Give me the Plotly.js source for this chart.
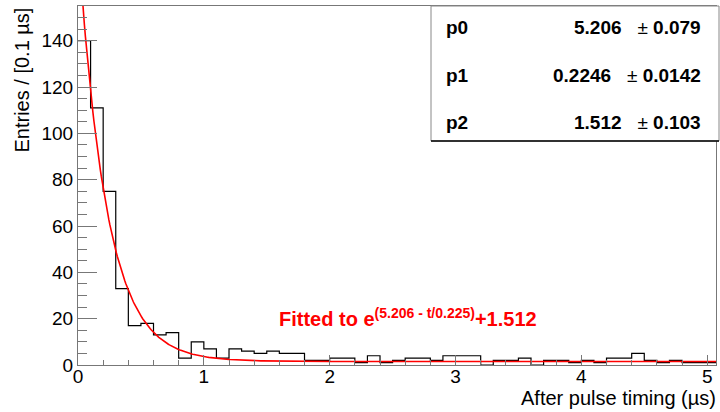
<!DOCTYPE html>
<html>
<head>
<meta charset="utf-8">
<script src="https://cdn.plot.ly/plotly-3.0.1.min.js"></script>
<style>html,body{margin:0;padding:0;background:#fff;}#chart{width:720px;height:412px;}</style>
</head>
<body>
<div id="chart"></div>
<script>
// Histogram: entries per 0.1 µs bin, starting at 0 µs
const binStart = 0;
const binWidth = 0.1;
const counts = [140, 111, 75, 33, 17, 18, 13, 14, 3, 10,
                7, 3, 7, 6, 5, 6, 5, 5, 2, 2,
                3, 3, 1, 4, 1, 2, 3, 3, 2, 4,
                4, 4, 0, 2, 2, 3, 0, 2, 2, 1,
                2, 1, 3, 3, 5, 2, 1, 2, 1, 1, 1];
// Fit parameters: f(t) = exp(p0 - t/p1) + p2
const p0 = 5.206, p0err = 0.079;
const p1 = 0.2246, p1err = 0.0142;
const p2 = 1.512, p2err = 0.103;
const paramNames = ["p0", "p1", "p2"];
const paramValues = ["5.206", "0.2246", "1.512"];
const paramErrors = ["0.079", "0.0142", "0.103"];
const xTitle = "After pulse timing (µs)";
const yTitle = "Entries / [0.1 µs]";
const fitLabel = "<b>Fitted to e<sup>(5.206 - t/0.225)</sup>+1.512</b>";

const xMax = 5.07, yMax = 155;

// step histogram
const hx = [], hy = [];
for (let i = 0; i < counts.length; i++) { hx.push(binStart + i * binWidth); hy.push(counts[i]); }
hx.push(binStart + counts.length * binWidth); hy.push(counts[counts.length - 1]);

// fitted function
const fx = [], fy = [];
const nPts = 600;
for (let i = 0; i <= nPts; i++) {
  const t = xMax * i / nPts;
  fx.push(t); fy.push(Math.exp(p0 - t / p1) + p2);
}

const FONT = "Liberation Sans, Arial, Helvetica, sans-serif";
const L = 78, R = 716, T = 6, B = 365;
const W = R - L, H = B - T;
const px = x => (x - L) / W;
const py = y => (B - y) / H;

const traces = [
  {x: hx, y: hy, type: "scatter", mode: "lines", line: {shape: "hv", color: "#000", width: 1.2}, hoverinfo: "skip"},
  {x: fx, y: fy, type: "scatter", mode: "lines", line: {color: "#ff0000", width: 1.6}, hoverinfo: "skip"}
];

const annotations = [
  {xref: "paper", yref: "paper", x: px(21), y: 1.0, xanchor: "center", yanchor: "top", textangle: -90,
   text: yTitle, showarrow: false, font: {family: FONT, size: 20, color: "#000"}},
  {xref: "paper", yref: "paper", x: px(718), y: py(398), xanchor: "right", yanchor: "middle",
   text: xTitle, showarrow: false, font: {family: FONT, size: 20, color: "#000"}},
  {xref: "paper", yref: "paper", x: px(277), y: py(317), xanchor: "left", yanchor: "middle",
   text: fitLabel, showarrow: false, font: {family: FONT, size: 20, color: "#ff0000"}}
];
const rowY = [28, 75, 122];
for (let i = 0; i < 3; i++) {
  annotations.push({xref: "paper", yref: "paper", x: px(444), y: py(rowY[i]), xanchor: "left", yanchor: "middle",
    text: "<b>" + paramNames[i] + "</b>", showarrow: false, font: {family: FONT, size: 19, color: "#000"}});
  annotations.push({xref: "paper", yref: "paper", x: px(703), y: py(rowY[i]), xanchor: "right", yanchor: "middle",
    text: "<b>" + paramValues[i] + "</b>\u00A0\u00A0 ±\u00A0<b>" + paramErrors[i] + "</b>", showarrow: false, font: {family: FONT, size: 19, color: "#000"}});
}

const layout = {
  width: 720, height: 412,
  margin: {l: L, r: 720 - R, t: T, b: 412 - B, pad: 0},
  paper_bgcolor: "#fff", plot_bgcolor: "#fff",
  showlegend: false,
  font: {family: FONT, size: 19, color: "#000"},
  xaxis: {
    range: [0, xMax], showgrid: false, zeroline: false,
    showline: true, mirror: true, linecolor: "#777", linewidth: 1,
    ticks: "inside", ticklen: 10, tickcolor: "#777", tickwidth: 1,
    tick0: 0, dtick: 1, ticklabelstandoff: -6,
    minor: {ticks: "inside", ticklen: 5, dtick: 0.2, tickcolor: "#777", showgrid: false},
    tickfont: {family: FONT, size: 19, color: "#000"}
  },
  yaxis: {
    range: [0, yMax], showgrid: false, zeroline: false,
    showline: true, mirror: true, linecolor: "#777", linewidth: 1,
    ticks: "inside", ticklen: 19, tickcolor: "#777", tickwidth: 1,
    tick0: 0, dtick: 20,
    minor: {ticks: "inside", ticklen: 9, dtick: 5, tickcolor: "#777", showgrid: false},
    tickfont: {family: FONT, size: 19, color: "#000"}
  },
  shapes: [
    {type: "rect", xref: "paper", yref: "paper", x0: px(431), x1: px(719), y0: py(141), y1: py(6),
     fillcolor: "#fff", line: {color: "#888", width: 1}, layer: "above"},
    {type: "line", xref: "paper", yref: "paper", x0: px(431), x1: px(719), y0: py(141), y1: py(141),
     line: {color: "#000", width: 1.5}, layer: "above"}
  ],
  annotations: annotations
};

Plotly.newPlot("chart", traces, layout, {staticPlot: true, displayModeBar: false});
</script>
</body>
</html>
